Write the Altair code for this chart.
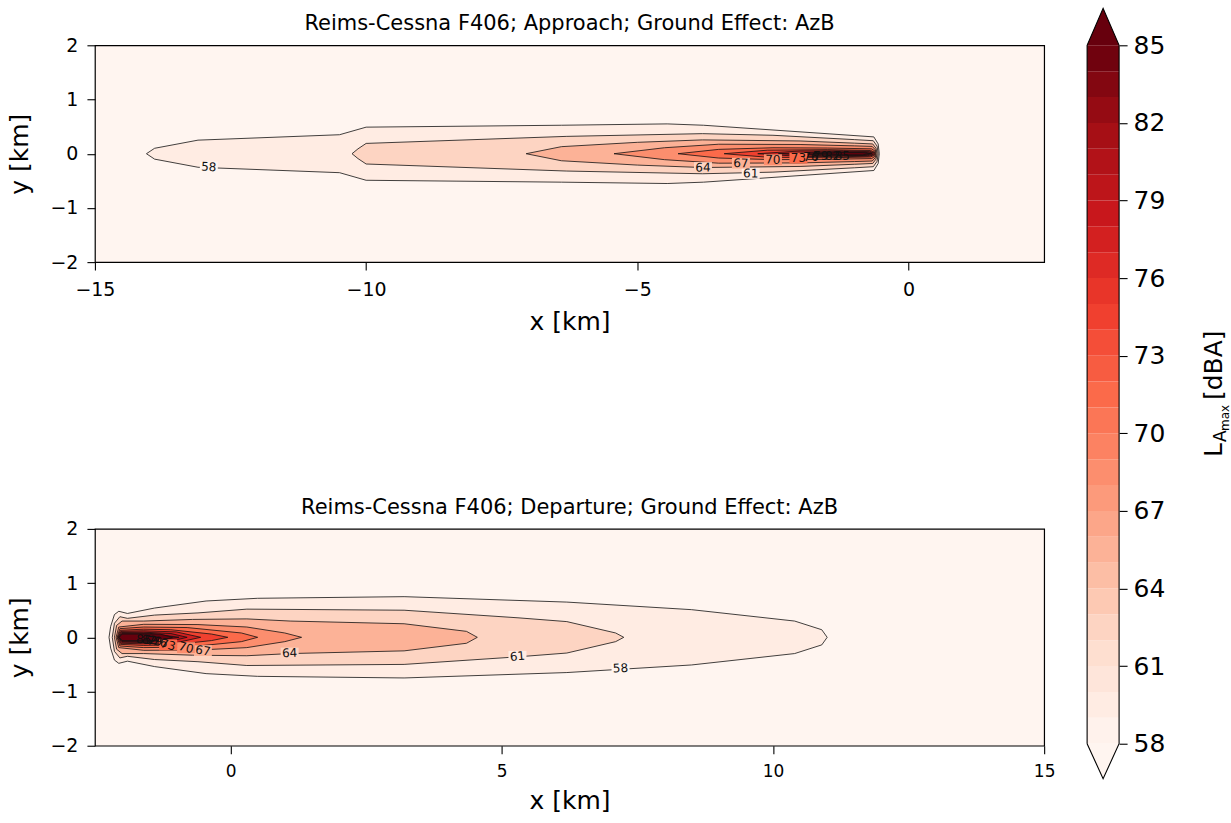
import altair as alt
import pandas as pd

FONT = "DejaVu Sans"

# ---------------- values ----------------
REDS = ["#fff5f0", "#fee0d2", "#fcbba1", "#fc9272", "#fb6a4a",
        "#ef3b2c", "#cb181d", "#a50f15", "#67000d"]
LEVEL_MIN = 58
LEVEL_MAX = 85
LINE_LEVELS = [58, 61, 64, 67, 70, 73, 76, 79, 82, 85]
BAND_LEVELS = list(range(58, 85))

APP_TITLE = "Reims-Cessna F406; Approach; Ground Effect: AzB"
DEP_TITLE = "Reims-Cessna F406; Departure; Ground Effect: AzB"
APP_XDOMAIN = [-15, 2.5]
DEP_XDOMAIN = [-2.5, 15]
YDOMAIN = [-2, 2]
APP_XTICKS = [-15, -10, -5, 0]
DEP_XTICKS = [0, 5, 10, 15]
YTICKS = [-2, -1, 0, 1, 2]

# Approach isolines: (x [km], half-width [km])
APP_58 = [(-14.05, 0.0), (-13.9, 0.10), (-13.1, 0.25), (-10.49, 0.35), (-10.0, 0.49),
          (-6.4, 0.525), (-4.45, 0.55), (-3.78, 0.525), (-0.64, 0.31), (-0.56, 0.18), (-0.54, 0.0)]
APP_61 = [(-10.26, 0.0), (-10.15, 0.09), (-10.0, 0.19), (-6.3, 0.32), (-3.8, 0.37),
          (-2.5, 0.34), (-1.0, 0.26), (-0.65, 0.24), (-0.58, 0.14), (-0.56, 0.0)]
APP_64 = [(-7.05, 0.0), (-6.4, 0.13), (-5.0, 0.21), (-3.8, 0.255), (-2.0, 0.235),
          (-1.0, 0.195), (-0.66, 0.18), (-0.6, 0.1), (-0.58, 0.0)]
APP_67 = [(-5.43, 0.0), (-4.5, 0.11), (-3.5, 0.175), (-2.0, 0.17), (-1.0, 0.145),
          (-0.67, 0.135), (-0.61, 0.07), (-0.6, 0.0)]
APP_70 = [(-4.25, 0.0), (-3.5, 0.08), (-2.5, 0.11), (-1.5, 0.105), (-0.68, 0.09),
          (-0.62, 0.05), (-0.61, 0.0)]
APP_73 = [(-3.4, 0.0), (-2.6, 0.065), (-1.5, 0.075), (-0.7, 0.06), (-0.63, 0.03), (-0.62, 0.0)]
APP_76 = [(-2.78, 0.0), (-2.0, 0.05), (-1.2, 0.055), (-0.72, 0.045), (-0.64, 0.02), (-0.63, 0.0)]
APP_79 = [(-2.4, 0.0), (-1.6, 0.035), (-0.75, 0.035), (-0.66, 0.015), (-0.65, 0.0)]
APP_82 = [(-2.1, 0.0), (-1.4, 0.028), (-0.8, 0.026), (-0.67, 0.0)]
APP_85 = [(-1.75, 0.0), (-1.2, 0.02), (-0.85, 0.02), (-0.7, 0.0)]

# Departure isolines: (x [km], half-width [km])
DEP_58 = [(-2.24, 0.0), (-2.21, 0.2), (-2.14, 0.42), (-2.06, 0.48), (-1.9, 0.44),
          (-1.4, 0.54), (-0.45, 0.67), (0.5, 0.72), (3.2, 0.75), (6.2, 0.65),
          (8.5, 0.51), (10.4, 0.30), (10.9, 0.14), (11.0, 0.0)]
DEP_61 = [(-2.18, 0.0), (-2.14, 0.26), (-2.04, 0.38), (-1.9, 0.35), (-1.4, 0.41),
          (-0.6, 0.45), (0.3, 0.52), (3.2, 0.50), (5.3, 0.36), (6.2, 0.29), (7.1, 0.08), (7.25, 0.0)]
DEP_64 = [(-2.14, 0.0), (-2.1, 0.22), (-2.0, 0.30), (-1.6, 0.30), (-0.7, 0.33),
          (0.3, 0.34), (1.1, 0.30), (3.2, 0.25), (4.35, 0.11), (4.55, 0.0)]
DEP_67 = [(-2.11, 0.0), (-2.06, 0.19), (-1.6, 0.24), (-0.6, 0.235), (0.3, 0.19), (1.0, 0.08), (1.31, 0.0)]
DEP_70 = [(-2.09, 0.0), (-2.04, 0.16), (-1.6, 0.19), (-0.8, 0.18), (0.2, 0.08), (0.5, 0.0)]
DEP_73 = [(-2.08, 0.0), (-2.03, 0.13), (-1.6, 0.15), (-1.1, 0.14), (-0.35, 0.06), (-0.05, 0.0)]
DEP_76 = [(-2.07, 0.0), (-2.02, 0.11), (-1.6, 0.12), (-1.0, 0.1), (-0.55, 0.0)]
DEP_79 = [(-2.06, 0.0), (-2.01, 0.09), (-1.6, 0.095), (-1.1, 0.07), (-0.8, 0.0)]
DEP_82 = [(-2.06, 0.0), (-2.0, 0.075), (-1.5, 0.075), (-0.95, 0.0)]
DEP_85 = [(-2.05, 0.0), (-2.0, 0.06), (-1.3, 0.06), (-1.07, 0.0)]

# contour labels
APP_LABEL_LEVEL = [58, 61, 64, 67, 70, 73, 76, 79, 82, 85]
APP_LABEL_X = [-12.9, -2.91, -3.79, -3.09, -2.5, -2.03, -1.8, -1.62, -1.4, -1.22]
APP_LABEL_Y = [-0.245, -0.365, -0.255, -0.175, -0.11, -0.08, -0.06, -0.05, -0.045, -0.04]
APP_LABEL_ANGLE = [3, 1, 1, 1, 1, 0, 0, 0, 0, 0]
DEP_LABEL_LEVEL = [58, 61, 64, 67, 70, 73, 76, 79, 82, 85]
DEP_LABEL_X = [7.19, 5.29, 1.09, -0.51, -0.82, -1.15, -1.3, -1.4, -1.5, -1.6]
DEP_LABEL_Y = [-0.57, -0.35, -0.29, -0.245, -0.19, -0.14, -0.09, -0.07, -0.05, -0.04]
DEP_LABEL_ANGLE = [357, 355, 358, 10, 15, 15, 10, 5, 5, 5]

# ---------------- styling / layout ----------------
PANEL_W, PANEL_H = 950, 217
CB_W = 32
CB_H = 734
CB_EXT_LO = 1.352   # triangle heights in dB units
CB_EXT_HI = 1.43
TICK_FS = 19
LABEL_FS = 25
TITLE_FS = 21

stops = [LEVEL_MIN + i * (LEVEL_MAX - LEVEL_MIN) / (len(REDS) - 1) for i in range(len(REDS))]
cscale = alt.Scale(domain=stops, range=REDS, clamp=True, interpolate="rgb")


def contour_frame(profiles):
    rows = []
    for lvl, prof in zip(LINE_LEVELS, profiles):
        for i, (x, hw) in enumerate(prof):
            rows.append(dict(level=lvl, x=x, top=hw, bot=-hw, fill=lvl + 1.5, order=i))
    return pd.DataFrame(rows)


def label_frame(levels, xs, ys, angs):
    return pd.DataFrame(dict(level=levels, x=xs, y=ys, ang=angs,
                             bg=[l - 1.5 for l in levels],
                             txt=[str(l) for l in levels]))


def panel(profiles, lbl, xdomain, xticks, title, xlabel_fs, xtitle_pad):
    df = contour_frame(profiles)
    xs = alt.Scale(domain=xdomain, nice=False, zero=False)
    ys = alt.Scale(domain=YDOMAIN, nice=False, zero=False)
    xaxis = alt.Axis(values=xticks, title="x [km]", tickSize=8, tickWidth=1.1, labelFontSize=xlabel_fs,
                     titleFontSize=LABEL_FS, labelPadding=10, titlePadding=xtitle_pad, labelFlush=False,
                     labelOverlap=False, grid=False, domain=False, format="d")
    yaxis = alt.Axis(values=YTICKS, title="y [km]", tickSize=8, tickWidth=1.1, labelFontSize=TICK_FS,
                     titleFontSize=LABEL_FS, labelPadding=9, titlePadding=17, labelFlush=False,
                     labelOverlap=False, grid=False, domain=False, format="d")
    X = lambda f: alt.X(f, scale=xs, axis=xaxis)
    Y = lambda f: alt.Y(f, scale=ys, axis=yaxis)
    layers = []
    for lvl in LINE_LEVELS:
        sub = df[df.level == lvl]
        layers.append(alt.Chart(sub).mark_area(stroke="#111111", strokeWidth=0.8,
                                               interpolate="linear").encode(
            x=X("x:Q"), y=Y("top:Q"), y2="bot:Q",
            color=alt.Color("fill:Q", scale=cscale, legend=None)))
    bg = alt.Chart(lbl[lbl.level <= 73]).mark_point(
        shape="M -1 -0.6 L 1 -0.6 L 1 0.6 L -1 0.6 Z", filled=True, opacity=1, size=324
    ).encode(x=X("x:Q"), y=Y("y:Q"), color=alt.Color("bg:Q", scale=cscale, legend=None))
    txt = alt.Chart(lbl).mark_text(fontSize=12, font=FONT, color="#111111").encode(
        x=X("x:Q"), y=Y("y:Q"), text="txt:N", angle=alt.Angle("ang:Q", scale=None))
    layers += [bg, txt]
    return alt.layer(*layers).properties(
        width=PANEL_W, height=PANEL_H,
        title=alt.TitleParams(title, fontSize=TITLE_FS, fontWeight="normal", font=FONT,
                              anchor="middle", offset=2, color="black"),
        view=alt.ViewBackground(fill=REDS[0], stroke="black", strokeWidth=1.2),
    )


top = panel([APP_58, APP_61, APP_64, APP_67, APP_70, APP_73, APP_76, APP_79, APP_82, APP_85],
            label_frame(APP_LABEL_LEVEL, APP_LABEL_X, APP_LABEL_Y, APP_LABEL_ANGLE),
            APP_XDOMAIN, APP_XTICKS, APP_TITLE, TICK_FS, 10)
bottom = panel([DEP_58, DEP_61, DEP_64, DEP_67, DEP_70, DEP_73, DEP_76, DEP_79, DEP_82, DEP_85],
               label_frame(DEP_LABEL_LEVEL, DEP_LABEL_X, DEP_LABEL_Y, DEP_LABEL_ANGLE),
               DEP_XDOMAIN, DEP_XTICKS, DEP_TITLE, 17, 9)

left = alt.vconcat(top, bottom, spacing=161).resolve_scale(x="independent", y="independent")

# ---------------- colorbar ----------------
cb_lo = LEVEL_MIN - CB_EXT_LO
cb_hi = LEVEL_MAX + CB_EXT_HI
cb_x = alt.Scale(domain=[0, 1], nice=False, zero=False)
cb_y = alt.Scale(domain=[cb_lo, LEVEL_MAX], nice=False, zero=False)

bands = pd.DataFrame(dict(lo=BAND_LEVELS, hi=[b + 1 for b in BAND_LEVELS],
                          val=[b + 0.5 for b in BAND_LEVELS], x0=0, x1=1))
cb_axis = alt.Axis(orient="right", values=LINE_LEVELS, tickSize=8, tickWidth=1.1,
                   labelFontSize=LABEL_FS, labelPadding=6, title=None, grid=False,
                   domain=False, labelFlush=False, labelOverlap=False)
band_layer = alt.Chart(bands).mark_rect().encode(
    x=alt.X("x0:Q", scale=cb_x, axis=None), x2="x1:Q",
    y=alt.Y("lo:Q", scale=cb_y, axis=cb_axis),
    y2="hi:Q",
    color=alt.Color("val:Q", scale=cscale, legend=None),
)
tri = pd.DataFrame(dict(
    cx=[0, 0.5, 1, 0, 0.5, 1],
    cy=[LEVEL_MIN, cb_lo, LEVEL_MIN, LEVEL_MAX, cb_hi, LEVEL_MAX],
    cy2=[LEVEL_MIN] * 3 + [LEVEL_MAX] * 3,
    val=[LEVEL_MIN - 1] * 3 + [LEVEL_MAX + 1] * 3,
    part=["lo"] * 3 + ["hi"] * 3,
))
tri_layer = alt.Chart(tri).mark_area(interpolate="linear", clip=False).encode(
    x=alt.X("cx:Q", scale=cb_x, axis=None), y=alt.Y("cy:Q", scale=cb_y, axis=cb_axis), y2="cy2:Q",
    color=alt.Color("val:Q", scale=cscale, legend=None), detail="part:N")
outline = pd.DataFrame(dict(
    ox=[0, 0, 0.5, 1, 1, 0.5, 0],
    oy=[LEVEL_MIN, LEVEL_MAX, cb_hi, LEVEL_MAX, LEVEL_MIN, cb_lo, LEVEL_MIN],
    k=list(range(7))))
outline_layer = alt.Chart(outline).mark_line(color="black", strokeWidth=1.1, clip=False).encode(
    x=alt.X("ox:Q", scale=cb_x, axis=None), y=alt.Y("oy:Q", scale=cb_y, axis=cb_axis), order="k:Q")

CB_LEFT, CB_TOP = 1084, 44
cb_title_parts = [("L", 25, 1219, 456), ("A", 17, 1223, 441), ("max", 12, 1226, 430),
                  ("[dBA]", 25, 1219, 399)]
title_layers = []
for t, fs, px, py in cb_title_parts:
    title_layers.append(
        alt.Chart(pd.DataFrame({"t": [t]})).mark_text(
            angle=270, align="left", baseline="alphabetic", fontSize=fs, font=FONT, color="black"
        ).encode(text="t:N", x=alt.value(px - CB_LEFT), y=alt.value(py - CB_TOP))
    )

cbar = alt.layer(band_layer, tri_layer, outline_layer, *title_layers).properties(
    width=CB_W, height=CB_H,
    view=alt.ViewBackground(fill="transparent", strokeWidth=0),
)

chart = alt.hconcat(left, cbar, spacing=28).resolve_scale(
    x="independent", y="independent"
).properties(
    padding={"left": 7, "top": 5, "right": 0, "bottom": 0},
    background="white",
).configure(font=FONT).configure_axis(
    labelColor="black", titleColor="black", tickColor="black",
    titleFontWeight="normal", labelFont=FONT, titleFont=FONT,
).configure_view(strokeWidth=0)

chart.save("out.html", embed_options={"renderer": "svg", "actions": False})
